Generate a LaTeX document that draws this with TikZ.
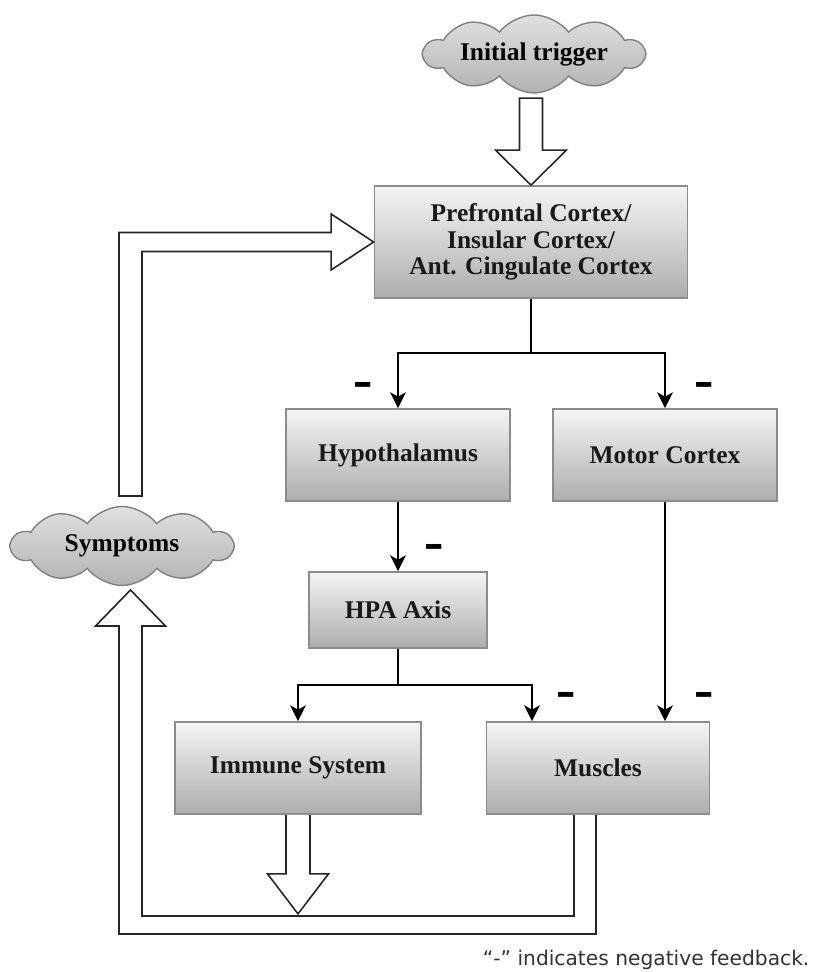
\documentclass[tikz,border=0pt]{standalone}
\usepackage{fontspec}
\setmainfont{Liberation Serif}
\setsansfont{DejaVu Sans}
\usetikzlibrary{arrows.meta,shapes.symbols}
\begin{document}
\begin{tikzpicture}
[box/.style={draw=black!45, line width=1pt, top color=black!4, bottom color=black!32, minimum height=1.84cm, font=\fontsize{14.5}{15}\selectfont\bfseries, text=black!90},
 puff/.style={cloud, cloud puffs=10, cloud puff arc=105, cloud ignores aspect, draw=black!50, line width=0.8pt, top color=black!12, bottom color=black!30, font=\fontsize{14.5}{15}\selectfont\bfseries, inner sep=0pt},
 hollow/.style={draw=black!85, line width=0.9pt, fill=white},
 minus/.style={font=\fontsize{22}{22}\selectfont\sffamily\bfseries, inner sep=0pt},
 >={Stealth[length=9pt,width=9pt,inset=2.5pt]}, line width=0.9pt]
\useasboundingbox (0,0) rectangle (16.38,19.44);

\node (Trigger) at (10.68,18.36) [puff, minimum width=4.4cm, minimum height=1.56cm] {Initial trigger};
\node (PFC) at (10.62,14.6) [box, minimum width=6.26cm, minimum height=2.24cm, align=center] {Prefrontal Cortex/\\Insular Cortex/\\Ant. Cingulate Cortex};
\node (Hyp) at (7.96,10.34) [box, minimum width=4.48cm] {Hypothalamus};
\node (Motor) at (13.3,10.34) [box, minimum width=4.48cm] {Motor Cortex};
\node (HPA) at (7.96,7.24) [box, minimum width=3.56cm, minimum height=1.52cm] {HPA Axis};
\node (Immune) at (5.96,4.08) [box, minimum width=4.92cm] {Immune System};
\node (Muscles) at (11.96,4.08) [box, minimum width=4.46cm] {Muscles};
\node (Symptoms) at (2.44,8.52) [puff, minimum width=4.42cm, minimum height=1.58cm] {Symptoms};

% thin arrows
\coordinate (PFCsplit) at (10.62,12.38);
\coordinate (HPAsplit) at (7.96,5.74);
\draw[->] (PFC.south) -- (PFCsplit) -| (Hyp.north);
\draw[->] (PFCsplit) -| (Motor.north);
\draw[->] (Hyp) -- (HPA);
\draw[->] (HPA.south) -- (HPAsplit) -| (Immune.north);
\draw[->] (HPAsplit) -| ([xshift=-1.32cm]Muscles.north);
\draw[->] (Motor.south) -- (Motor.south |- Muscles.north);

% negative feedback marks
\node (mHyp) at (7.26,11.66) [minus] {–};
\node (mMotor) at (14.08,11.66) [minus] {–};
\node (mHPA) at (8.68,8.42) [minus] {–};
\node (mMusA) at (11.32,5.46) [minus] {–};
\node (mMusB) at (14.08,5.46) [minus] {–};

% hollow arrows
\draw[hollow] (PFC.north) -- ++(-0.71,0.7) -- ++(0.48,0) -- ++(0,1.04) -- ++(0.46,0) -- ++(0,-1.04) -- ++(0.48,0) -- cycle;
\coordinate (SymTop) at (2.38,9.52);
\draw[hollow] (PFC.west) -- ++(-0.85,0.56) -- ++(0,-0.37) -| (SymTop) -- ++(0.46,0) |- ([xshift=-0.85cm,yshift=-0.19cm]PFC.west) -- ++(0,-0.37) -- cycle;
\coordinate (SymTip) at (2.61,7.64);
\draw[hollow] ([xshift=-0.04cm]Muscles.south) |- (2.38,0.76) -- (2.38,6.92) -- (1.91,6.92) -- (SymTip) -- (3.31,6.92) -- (2.84,6.92) |- (11.48,1.12) -- ([xshift=-0.48cm]Muscles.south);
\draw[hollow] ([xshift=-0.24cm]Immune.south) -- ++(0,-1.18) -- ++(-0.37,0) -- ++(0.61,-0.8) -- ++(0.61,0.8) -- ++(-0.37,0) -- ++(0,1.18);

\node (Note) at (16.32,0.24) [anchor=east, font=\sffamily\fontsize{11.5}{13}\selectfont, text=black!80] {“-” indicates negative feedback.};
\end{tikzpicture}
\end{document}
